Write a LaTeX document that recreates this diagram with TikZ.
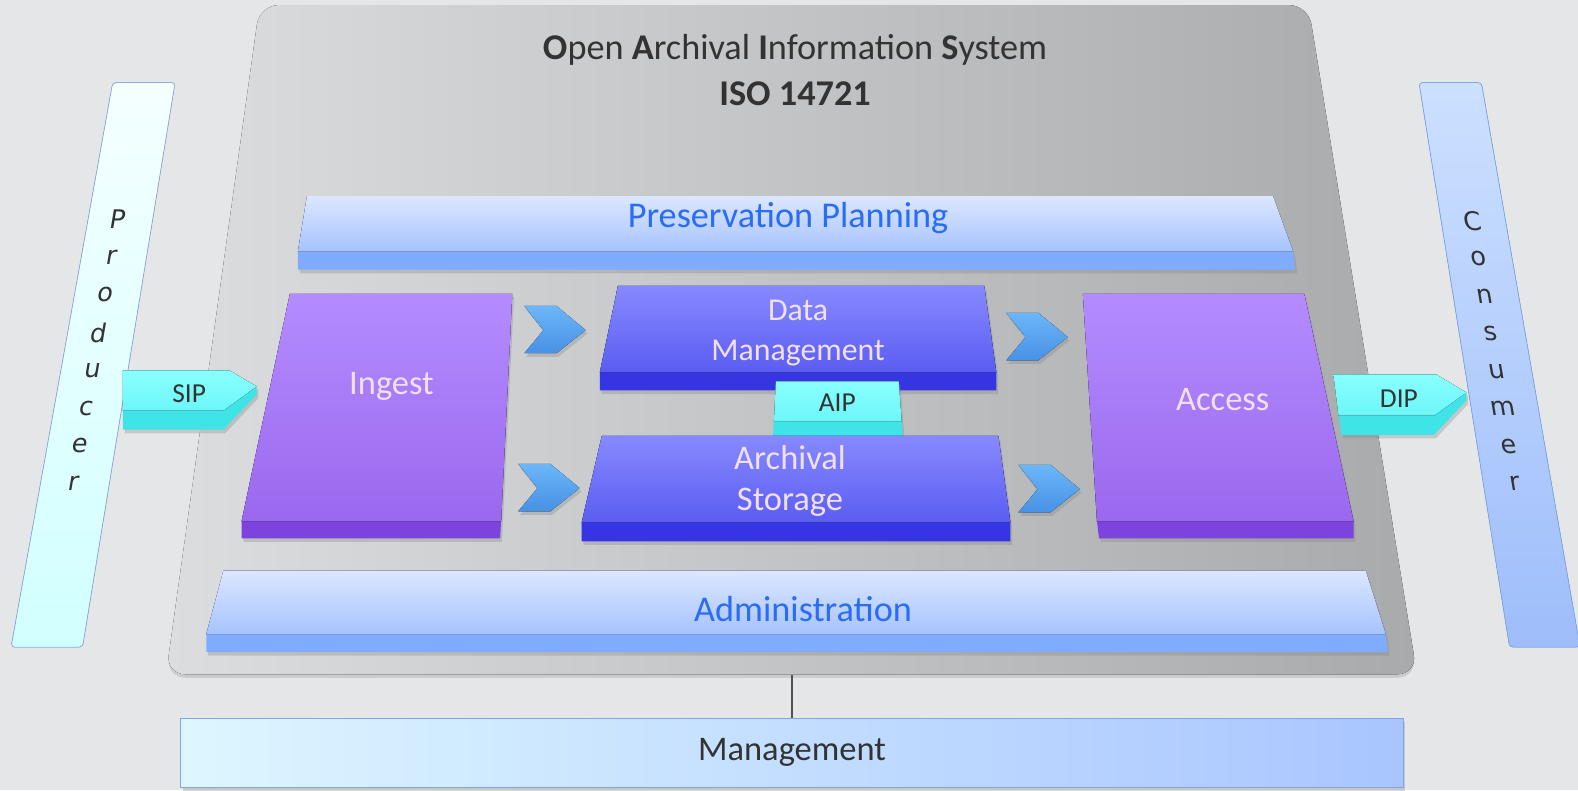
\documentclass[tikz,border=0pt]{standalone}
\usepackage{fontspec}
\setmainfont{Carlito}
\newfontfamily\sidefont{DejaVu Sans}
\usetikzlibrary{shadows}

\definecolor{pagebg}{HTML}{E4E6E8}
\definecolor{oaisL}{HTML}{DCDDDE}
\definecolor{oaisR}{HTML}{A9AAAB}
\definecolor{barTop}{HTML}{DCE7FF}
\definecolor{barBot}{HTML}{A6C3FF}
\definecolor{barBand}{HTML}{80ACFF}
\definecolor{barText}{HTML}{2A6CF4}
\definecolor{purTop}{HTML}{B48CFF}
\definecolor{purBot}{HTML}{9A68EE}
\definecolor{purBand}{HTML}{7C43DF}
\definecolor{indTop}{HTML}{8789FF}
\definecolor{indBot}{HTML}{5B5DF2}
\definecolor{indBand}{HTML}{3535E3}
\definecolor{cyTop}{HTML}{8AFFFF}
\definecolor{cyBot}{HTML}{6CF6F8}
\definecolor{cyBand}{HTML}{3EE4E6}
\definecolor{chevTop}{HTML}{6CB6FA}
\definecolor{chevBot}{HTML}{4891E4}
\definecolor{inkgray}{HTML}{333333}
\definecolor{consTop}{HTML}{CCE0FF}
\definecolor{consBot}{HTML}{9EBDFA}
\definecolor{consLine}{HTML}{7FA6E8}
\definecolor{mgmtL}{HTML}{DDF6FF}
\definecolor{mgmtR}{HTML}{A9C5FF}

\newcommand*{\bigtext}{\fontsize{20.5}{24}\selectfont}
\newcommand*{\boxfont}{\fontsize{19.5}{23}\selectfont}
\newcommand*{\midtext}{\fontsize{18}{23}\selectfont}
\newcommand*{\pkgtext}{\fontsize{15.5}{18}\selectfont}
\newcommand*{\sidetext}{\sidefont\fontsize{14.5}{16}\selectfont}

\begin{document}
\begin{tikzpicture}
[
	x=0.02cm, y=-0.02cm,
	oaisbox/.style={left color=oaisL, right color=oaisR, rounded corners=11pt,
		drop shadow={shadow xshift=0pt, shadow yshift=-2pt, opacity=0.25}},
	under/.style={drop shadow={shadow xshift=1pt, shadow yshift=-2pt, opacity=0.3}},
	barband/.style={under, fill=barBand},
	barface/.style={top color=barTop, bottom color=barBot},
	purband/.style={under, fill=purBand},
	purface/.style={top color=purTop, bottom color=purBot},
	indband/.style={under, fill=indBand},
	indface/.style={top color=indTop, bottom color=indBot},
	cyband/.style={under, fill=cyBand},
	cyface/.style={top color=cyTop, bottom color=cyBot},
	chevron/.style={under, top color=chevTop, bottom color=chevBot},
	bartext/.style={text=barText, font=\bigtext},
	boxtext/.style={text=white!88!violet, font=\boxfont, align=center},
	pkglabel/.style={text=inkgray, font=\pkgtext},
	letter/.style={text=inkgray, font=\sidetext, inner sep=0pt},
	mgmtbar/.style={left color=mgmtL, right color=mgmtR,
		draw=consLine, minimum width=24.3cm, minimum height=1.36cm,
		text=inkgray, font=\boxfont, under}
]

	% page
	\fill[pagebg] (0,0) rectangle (1568,785);
	\useasboundingbox (0,0) rectangle (1568,785);

	% OAIS box
	\fill[oaisbox] (258,5) -- (1300,5) -- (1408,670) -- (165,670) -- cycle;
	\coordinate (oaisfoot) at (787,671);
	\node[text=inkgray, font=\bigtext] (title) at (790,50)
	  {\textbf{O}pen \textbf{A}rchival \textbf{I}nformation \textbf{S}ystem};
	\node[text=inkgray, font=\bigtext\bfseries] (iso) at (790,93) {ISO 14721};

	% producer and consumer
	\fill[top color=cyan!4!white, bottom color=cyan!18!white, draw=cyan!45!blue!45!white,
	  rounded corners=2pt] (112,82) -- (174,82) -- (82,643) -- (11,643) -- cycle;
	\foreach \l [count=\i from 0] in {P,r,o,d,u,c,e,r}
		\node[letter, xslant=0.17] (prod\i) at ({117-6.3*\i},{218+37.5*\i}) {\l};
	\fill[top color=consTop, bottom color=consBot, draw=consLine, rounded corners=2pt]
	  (1410,82) -- (1472,82) -- (1570,643) -- (1500,643) -- cycle;
	\foreach \l [count=\i from 0] in {C,o,n,s,u,m,e,r}
		\node[letter, xslant=-0.17] (cons\i) at ({1463+6*\i},{220+37.2*\i}) {\l};

	% preservation planning
	\fill[barband] (305,195) -- (1265,195) -- (1285,250) -- (1287,268) -- (296,268) -- (296,250) -- cycle;
	\fill[barface] (305,195) -- (1265,195) -- (1285,250) -- (296,250) -- cycle;
	\node[bartext] (plan) at (783,217) {Preservation Planning};

	% ingest and access
	\fill[purband] (288,292) -- (509,292) -- (497,535) -- (240,535) -- (240,518) -- cycle;
	\fill[purface] (288,292) -- (509,292) -- (498,518) -- (240,518) -- cycle;
	\node[boxtext] (ingest) at (389,384) {Ingest};
	\fill[purband] (1076,292) -- (1296,292) -- (1345,518) -- (1345,535) -- (1092,535) -- (1090,518) -- cycle;
	\fill[purface] (1076,292) -- (1296,292) -- (1345,518) -- (1090,518) -- cycle;
	\node[boxtext] (access) at (1215,397) {Access};

	% data management, AIP, archival storage
	\fill[indband] (614,284) -- (978,284) -- (990,370) -- (990,388) -- (596,388) -- (596,370) -- cycle;
	\fill[indface] (614,284) -- (978,284) -- (990,370) -- (596,370) -- cycle;
	\node[boxtext, font=\midtext] (dm) at (793,331) {Data\\Management};
	\fill[cyband] (771,379) -- (893,379) -- (897,433) -- (768,433) -- cycle;
	\fill[cyface] (771,379) -- (893,379) -- (896,419) -- (769,419) -- cycle;
	\node[pkglabel] (aip) at (832,400) {AIP};
	\fill[indband] (598,433) -- (992,433) -- (1004,519) -- (1004,538) -- (578,538) -- (578,519) -- cycle;
	\fill[indface] (598,433) -- (992,433) -- (1004,519) -- (578,519) -- cycle;
	\node[boxtext] (store) at (785,478) {Archival\\Storage};

	% chevrons
	\foreach \cx/\cy in {521/304, 515/461, 1000/311, 1012/462}
		\fill[chevron] (\cx,\cy) -- ++(32,0) -- ++(29,24) -- ++(-29,23) -- ++(-32,0) -- ++(19,-23) -- cycle;

	% SIP and DIP
	\fill[cyband] (122,368) -- (228,368) -- (255,384) -- (255,392) -- (222,427) -- (122,427) -- cycle;
	\fill[cyface] (122,368) -- (228,368) -- (255,384) -- (222,408) -- (122,408) -- cycle;
	\node[pkglabel] (sip) at (188,391) {SIP};
	\fill[cyband] (1325,372) -- (1427,372) -- (1457,390) -- (1457,398) -- (1425,432) -- (1333,432) -- cycle;
	\fill[cyface] (1325,372) -- (1427,372) -- (1457,390) -- (1425,413) -- (1330,413) -- cycle;
	\node[pkglabel] (dip) at (1390,396) {DIP};

	% administration
	\fill[barband] (222,567) -- (1357,567) -- (1377,630) -- (1379,648) -- (205,648) -- (205,630) -- cycle;
	\fill[barface] (222,567) -- (1357,567) -- (1377,630) -- (205,630) -- cycle;
	\node[bartext] (admin) at (798,605) {Administration};

	% management
	\node[mgmtbar] (mgmt) at (787,748) {Management};
	\draw[line width=1.6pt, inkgray!85] (oaisfoot) -- (mgmt);

\end{tikzpicture}
\end{document}
